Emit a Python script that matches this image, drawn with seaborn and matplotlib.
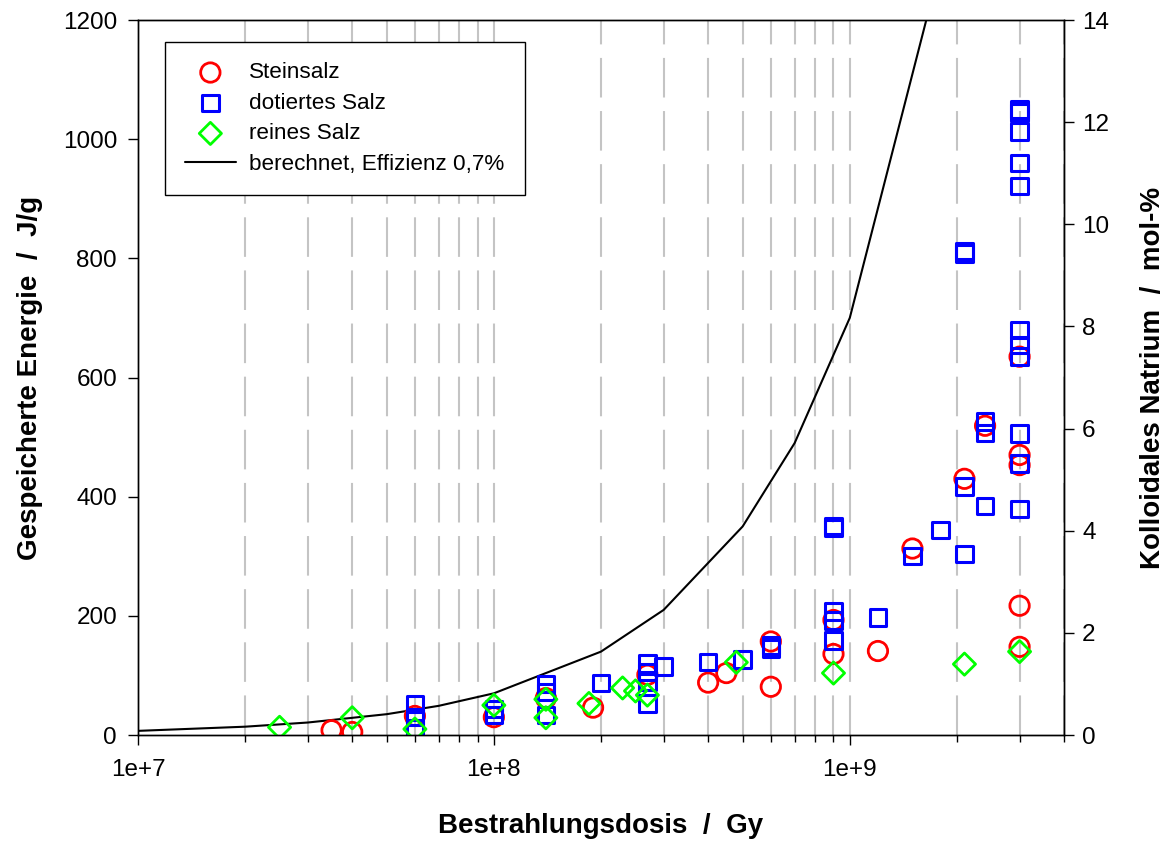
import numpy as np
import matplotlib
matplotlib.use("Agg")
import matplotlib.pyplot as plt
import seaborn as sns
from matplotlib.ticker import LogLocator, NullFormatter

# Steinsalz (red circles)
stein_dose = [3.5e7, 4e7, 6e7, 1e8, 1.4e8, 1.9e8, 2.7e8, 4e8, 4.5e8, 6e8, 6e8, 9e8, 9e8,
              1.2e9, 1.5e9, 2.1e9, 2.4e9, 3e9, 3e9, 3e9, 3e9, 3e9]
stein_energy = [8, 5, 32, 30, 62, 46, 101, 88, 104, 157, 81, 193, 136,
                141, 313, 430, 519, 470, 453, 635, 217, 148]

# dotiertes Salz (blue squares)
dot_dose = [6e7, 6e7, 6e7, 1e8, 1e8, 1.4e8, 1.4e8, 1.4e8, 2e8,
            2.7e8, 2.7e8, 2.7e8, 2.7e8, 3e8, 4e8, 5e8, 6e8, 6e8,
            9e8, 9e8, 9e8, 9e8, 9e8, 1.2e9, 1.5e9, 1.8e9,
            2.1e9, 2.1e9, 2.1e9, 2.1e9, 2.4e9, 2.4e9, 2.4e9,
            3e9, 3e9, 3e9, 3e9, 3e9, 3e9, 3e9, 3e9, 3e9, 3e9, 3e9]
dot_energy = [52, 30, 12, 44, 34, 86, 72, 34, 87,
              120, 106, 89, 53, 115, 123, 127, 150, 145,
              351, 347, 207, 192, 159, 197, 300, 344,
              812, 808, 417, 304, 526, 507, 384,
              1050, 1045, 1013, 960, 921, 680, 655, 635, 506, 456, 379]

# reines Salz (green diamonds)
rein_dose = [2.5e7, 4e7, 6e7, 1e8, 1.4e8, 1.4e8, 1.85e8, 2.3e8, 2.5e8, 2.7e8,
             4.8e8, 9e8, 2.1e9, 3e9]
rein_energy = [13, 29, 10, 50, 60, 29, 53, 79, 74, 67,
               122, 104, 119, 140]

# berechnet, Effizienz 0,7%
calc_dose = [1e7, 2e7, 3e7, 5e7, 7e7, 1e8, 2e8, 3e8, 5e8, 7e8, 1e9, 2e9]
calc_energy = [7, 14, 21, 35, 49, 70, 140, 210, 350, 490, 700, 1400]

x_ticks = [1e7, 1e8, 1e9]
x_ticklabels = ["1e+7", "1e+8", "1e+9"]

sns.set_style("ticks")
plt.rcParams["font.family"] = ["Liberation Sans", "DejaVu Sans"]
plt.rcParams["text.color"] = "black"
plt.rcParams["axes.labelcolor"] = "black"
plt.rcParams["xtick.color"] = "black"
plt.rcParams["ytick.color"] = "black"

fig = plt.figure(figsize=(11.76, 8.41), dpi=100)
ax = fig.add_axes([0.1173, 0.1260, 0.7875, 0.8502])
ax.set_xscale("log")

sns.lineplot(x=calc_dose, y=calc_energy, color="black", linewidth=1.5, ax=ax,
             label="berechnet, Effizienz 0,7%", zorder=3)
sns.scatterplot(x=stein_dose, y=stein_energy, marker="o", s=195, facecolor="none",
                edgecolor="#ff0000", linewidth=2.0, ax=ax, label="Steinsalz", zorder=4)
sns.scatterplot(x=dot_dose, y=dot_energy, marker="s", s=140, facecolor="none",
                edgecolor="#0000ff", linewidth=2.2, ax=ax, label="dotiertes Salz", zorder=5)
sns.scatterplot(x=rein_dose, y=rein_energy, marker="D", s=128, facecolor="none",
                edgecolor="#00ff00", linewidth=2.0, ax=ax, label="reines Salz", zorder=6)

ax.set_xlim(1e7, 4e9)
ax.set_ylim(0, 1200)
ax.set_yticks(range(0, 1201, 200))
ax.set_xticks(x_ticks, labels=x_ticklabels)
ax.xaxis.set_minor_locator(LogLocator(base=10, subs=np.arange(2, 10)))
ax.xaxis.set_minor_formatter(NullFormatter())

ax.grid(True, which="both", axis="x", color="#c4c4c4", linewidth=1.5,
        linestyle=(0, (19, 6.5)))
ax.set_axisbelow(True)

ax.tick_params(axis="both", which="major", direction="out", length=7, width=1,
               labelsize=17.5, colors="black", pad=8)
ax.tick_params(axis="x", which="minor", direction="out", length=5, width=1)
ax.tick_params(axis="x", which="major", pad=10)

ax.set_xlabel("Bestrahlungsdosis  /  Gy", fontsize=20, fontweight="bold",
              labelpad=23, color="black")
ax.set_ylabel("Gespeicherte Energie  /  J/g", fontsize=20, fontweight="bold",
              labelpad=14, color="black")

for sp in ax.spines.values():
    sp.set_color("black")
    sp.set_linewidth(1)

ax2 = ax.twinx()
ax2.set_ylim(0, 14)
ax2.set_yticks(range(0, 15, 2))
ax2.tick_params(axis="y", direction="out", length=7, width=1, labelsize=17.5,
                pad=6, colors="black")
ax2.set_ylabel("Kolloidales Natrium  /  mol-%", fontsize=20, fontweight="bold",
               labelpad=22, color="black")
for sp in ax2.spines.values():
    sp.set_color("black")
    sp.set_linewidth(1)

handles, labels = ax.get_legend_handles_labels()
order = ["Steinsalz", "dotiertes Salz", "reines Salz", "berechnet, Effizienz 0,7%"]
hmap = dict(zip(labels, handles))
leg = ax.legend([hmap[k] for k in order], order, loc="upper left",
                bbox_to_anchor=(0.029, 0.969), borderaxespad=0, fontsize=16.2,
                frameon=True, fancybox=False, framealpha=1, edgecolor="black",
                labelspacing=0.42, handlelength=2.25, handletextpad=0.6,
                borderpad=0.9, scatterpoints=1)
leg.get_frame().set_linewidth(1)
leg.set_zorder(10)
for t in leg.get_texts():
    t.set_color("black")

fig.savefig("out.png", dpi=100)
